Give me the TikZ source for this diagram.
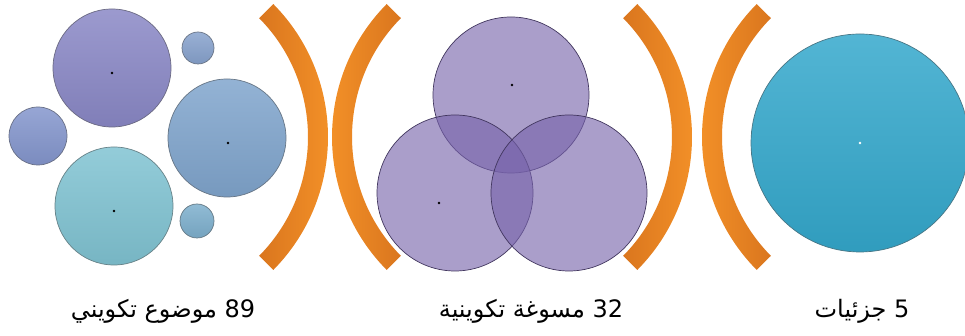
\documentclass[tikz,border=0pt]{standalone}
\usepackage{fontspec}
\newfontfamily\arabicfont[Script=Arabic]{DejaVu Sans}
\TeXXeTstate=1
\usetikzlibrary{calc}
\definecolor{orangeL}{RGB}{248,150,42}
\definecolor{orangeD}{RGB}{218,118,30}
\definecolor{lavA}{RGB}{138,136,198}
\definecolor{steelA}{RGB}{135,162,205}
\definecolor{steelB}{RGB}{132,150,205}
\definecolor{steelC}{RGB}{128,165,205}
\definecolor{tealA}{RGB}{128,195,210}
\definecolor{tealB}{RGB}{125,175,205}
\definecolor{cyanA}{RGB}{52,168,204}
\definecolor{violA}{RGB}{118,98,170}
\tikzset{
  bubble/.style={draw=#1!50!gray!80!black, line width=0.7pt, top color=#1!85!white, bottom color=#1!93!black},
  venn/.style={draw=violA!55!black, line width=0.7pt, fill=violA, fill opacity=0.62},
  dot/.style={fill=black},
  lbl/.style={font=\arabicfont\fontsize{24}{28}\selectfont, anchor=base}
}
% one orange bracket: centre x, start angle, end angle, left/right colour
\newcommand{\bracketarc}[5]{%
  \shade[left color=#4, right color=#5]
    ($(#1,199)+(#2:189)$) arc[start angle=#2, end angle=#3, radius=189]
    -- ($(#1,199)+(#3:169)$) arc[start angle=#3, end angle=#2, radius=169] -- cycle;}
\begin{document}
\begin{tikzpicture}[x=1pt, y=1pt]
  \useasboundingbox (0,0) rectangle (965,336);
  % --- left panel ---
  \shade[bubble=lavA] (112,268) circle[radius=59];
  \shade[bubble=steelA] (198,288) circle[radius=16];
  \shade[bubble=steelB] (38,200) circle[radius=29];
  \shade[bubble=steelC] (227,198) circle[radius=59];
  \shade[bubble=tealA] (114,130) circle[radius=59];
  \shade[bubble=tealB] (197,115) circle[radius=17];
  \fill[dot] (112,263) circle[radius=1.3];
  \fill[dot] (228,193) circle[radius=1.3];
  \fill[dot] (114,125) circle[radius=1.3];
  % --- brackets ---
  \bracketarc{139}{-44.7}{44.7}{orangeD}{orangeL}
  \bracketarc{521}{135.3}{224.7}{orangeL}{orangeD}
  \bracketarc{503}{-44.7}{44.7}{orangeD}{orangeL}
  \bracketarc{891}{135.3}{224.7}{orangeL}{orangeD}
  % --- middle panel ---
  \draw[venn] (511,241) circle[radius=78];
  \draw[venn] (455,143) circle[radius=78];
  \draw[venn] (569,143) circle[radius=78];
  \fill[dot] (512,251) circle[radius=1.3];
  \fill[dot] (439,133) circle[radius=1.3];
  % --- right panel ---
  \shade[bubble=cyanA] (860,193) circle[radius=109];
  \fill[white] (860,193) circle[radius=1.3];
  % --- labels ---
  \node[lbl] (lblSubject) at (163,18) {\beginR\beginL89\endL{} موضوع تكويني\endR};
  \node[lbl] (lblLicence) at (531,18) {\beginR\beginL32\endL{} مسوغة تكوينية\endR};
  \node[lbl] (lblParts) at (862,18) {\beginR\beginL5\endL{} جزئيات\endR};
\end{tikzpicture}
\end{document}
